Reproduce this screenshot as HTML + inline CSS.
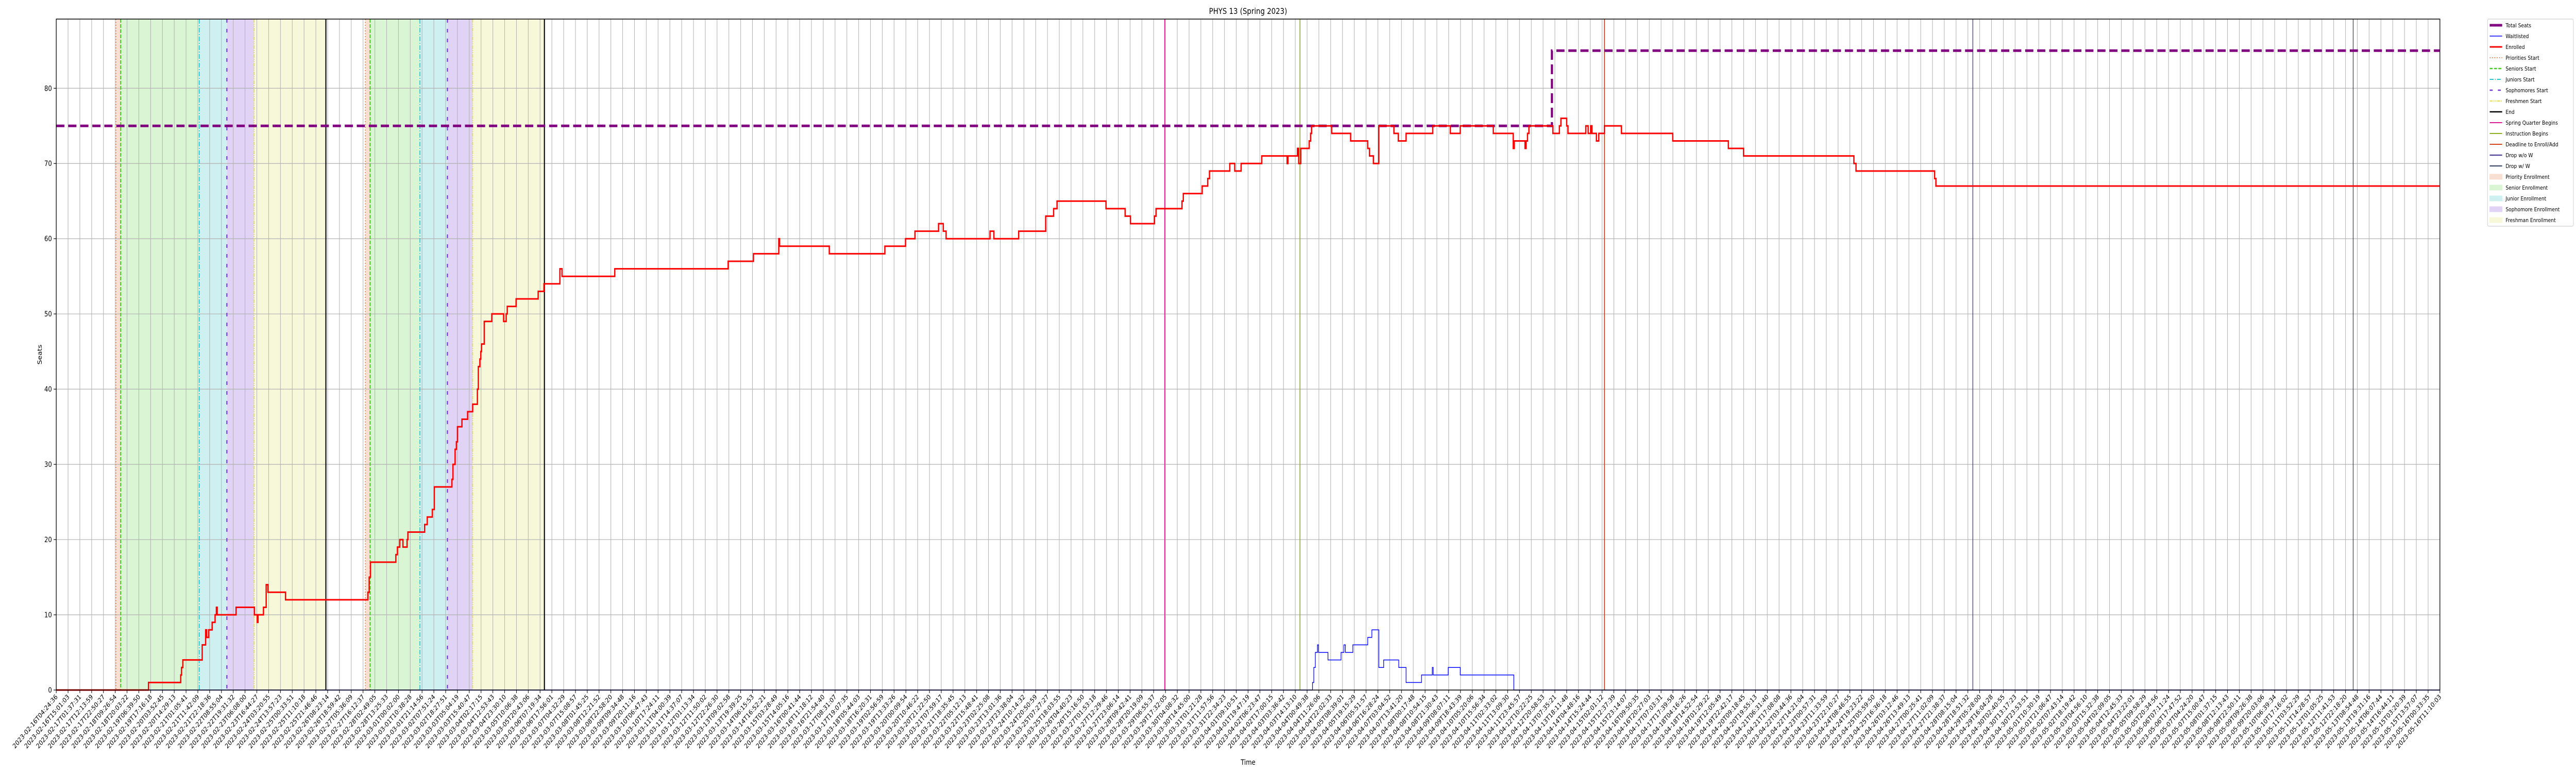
<!DOCTYPE html>
<html><head><meta charset="utf-8"><style>
html,body{margin:0;padding:0;background:#fff;overflow:hidden;}
svg{display:block;width:100vw;height:100vh;font-family:"DejaVu Sans","Liberation Sans",sans-serif;}
</style></head><body>
<svg id="chart" viewBox="0 0 6000 1500" preserveAspectRatio="none" xmlns="http://www.w3.org/2000/svg">
<rect width="6000" height="1500" fill="#fff"/>
<g id="bands"></g><g id="grid"></g><g id="vlines"></g><g id="series"></g><g id="axes"></g><g id="legend"></g>
</svg>
<script>
// ---- data (x in tick-index time units, y in seats) ----
const startLabel = "2023-02-16T04:24:36";
const endLabel = "2023-05-16T11:10:03";
const tickCount = 203;
const yTicks = [0,10,20,30,40,50,60,70,80];
const enrolledX = [0,7.82,10.55,10.62,10.73,12.37,12.66,12.75,12.92,13.21,13.46,13.57,13.64,15.24,16.79,17.03,17.10,17.56,17.79,17.94,19.43,26.41,26.52,26.63,28.78,28.91,29.11,29.38,29.73,29.80,31.22,31.44,31.87,32.04,33.53,33.62,33.80,33.91,34.00,34.38,34.86,35.29,35.69,35.77,35.90,35.98,36.04,36.27,36.91,37.91,38.13,38.22,38.97,40.84,41.33,42.68,42.86,47.33,56.94,59.09,61.23,61.30,65.51,70.22,71.97,72.77,74.77,75.17,75.41,79.13,79.46,81.56,83.85,84.52,84.81,88.96,90.58,91.03,93.07,93.20,95.40,95.51,97.11,97.58,97.73,99.45,99.87,100.41,102.16,104.31,104.38,105.18,105.29,105.47,106.18,106.30,106.38,108.09,109.69,111.14,111.29,111.62,112.08,113.36,113.73,114.39,116.65,118.14,118.98,121.78,123.47,123.56,124.47,124.56,124.68,124.80,126.83,127.38,127.51,128.00,128.11,129.62,129.82,130.03,130.14,130.52,130.72,131.20,132.64,136.99,141.70,142.99,152.34,152.52,159.18,159.29,202];
const enrolledY = [0,1,2,3,4,6,8,7,8,9,10,11,10,11,10,9,10,11,14,13,12,13,15,17,18,19,20,19,20,21,22,23,24,27,28,30,32,33,35,36,37,38,40,43,44,45,46,49,50,49,50,51,52,53,54,56,55,56,57,58,60,59,58,59,60,61,62,61,60,61,60,61,63,64,65,64,63,62,63,64,65,66,67,68,69,70,69,70,71,70,71,72,70,72,73,74,75,74,73,72,71,70,75,74,73,74,75,74,75,74,72,73,72,73,74,75,74,75,76,75,74,75,74,75,74,73,74,75,74,73,72,71,70,69,68,67,67];
const waitX = [0,106.46,106.57,106.70,106.88,106.97,107.77,108.88,109.12,109.25,109.88,111.14,111.49,112.08,112.49,113.77,114.39,115.70,116.61,116.69,117.96,118.98,123.52,202];
const waitY = [0,1,3,5,6,5,4,5,6,5,6,7,8,3,4,3,1,2,3,2,3,2,0,0];
const seatsX = [0,126.75,202];
const seatsY = [75,85,85];
const cycleStarts = [[5.06,5.46,12.12,14.46,16.77,22.85],[26.20,26.60,30.82,33.15,35.29,41.37]];
const eventNames = ["Spring Quarter Begins","Instruction Begins","Deadline to Enroll/Add","Drop w/o W","Drop w/ W"];
const eventX = [93.94,105.40,131.20,162.42,194.65];

// ---- layout ----
const L=131,R=5683,T=37,B=1339,YMAX=89.2;
const NS="http://www.w3.org/2000/svg";
const sx=v=>L+v*(R-L)/(tickCount-1);
const sy=v=>B-v*(B-T)/YMAX;
function mk(tag,attrs,parent){const e=document.createElementNS(NS,tag);for(const k in attrs)e.setAttribute(k,attrs[k]);parent.appendChild(e);return e;}
const $=id=>document.getElementById(id);

// bands
const bandColors=["#f8dfd2","#d9f5d3","#cff0f0","#e0d3f5","#f7f8da"];
const bandNames=["priority","senior","junior","sophomore","freshman"];
cycleStarts.forEach((c,ci)=>{for(let i=0;i<5;i++){
  const r=mk('rect',{x:sx(c[i]),y:T,width:sx(c[i+1])-sx(c[i]),height:B-T,fill:bandColors[i]},$('bands'));
  
  
}});

// grid
for(let i=0;i<tickCount;i++){const l=mk('line',{x1:sx(i),x2:sx(i),y1:T,y2:B,stroke:"#b0b0b0","stroke-width":1.2},$('grid'));
  
  }
yTicks.forEach(v=>{const l=mk('line',{x1:L,x2:R,y1:sy(v),y2:sy(v),stroke:"#b0b0b0","stroke-width":1.2},$('grid'));
  
  });

// start lines
const startStyles=[["#f07a3c","2,3.5",2],["#44cc22","7,3",2.5],["#22c8d0","9,3,2,3",2],["#7733dd","7,12",2.5],["#e6e040","7,2,2,2,2,2",2],["#000","",2.5]];
const startNames=["priorities-start","seniors-start","juniors-start","sophomores-start","freshmen-start","end"];
cycleStarts.forEach(c=>c.forEach((v,i)=>{const s=startStyles[i];
  const l=mk('line',{x1:sx(v),x2:sx(v),y1:T,y2:B,stroke:s[0],"stroke-width":s[2],"stroke-dasharray":s[1]},$('vlines'));
  
  }));
const eventColors=["#e01a94","#8fb01e","#d2431d","#3b2e8f","#2f3e5c"];
eventX.forEach((v,i)=>{const l=mk('line',{x1:sx(v),x2:sx(v),y1:T,y2:B,stroke:eventColors[i],"stroke-width":i<3?2:1.5},$('vlines'));
  
  });

// series
function stepPath(xs,ys){let d="M"+sx(xs[0])+","+sy(ys[0]);for(let i=1;i<xs.length;i++){d+="H"+sx(xs[i])+"V"+sy(ys[i]);}return d;}
const ps=mk('path',{d:stepPath(seatsX,seatsY),fill:"none",stroke:"#800080","stroke-width":5,"stroke-dasharray":"19,9"},$('series'));


const pw=mk('path',{d:stepPath(waitX,waitY),fill:"none",stroke:"#0000ff","stroke-width":1.5},$('series'));


const pe=mk('path',{d:stepPath(enrolledX,enrolledY),fill:"none",stroke:"#ff0000","stroke-width":3},$('series'));



// axes
const ax=$('axes');
const fr=mk('rect',{x:L,y:T,width:R-L,height:B-T,fill:"none",stroke:"#000","stroke-width":1.5},ax);


yTicks.forEach(v=>{mk('line',{x1:L-6,x2:L,y1:sy(v),y2:sy(v),stroke:"#000","stroke-width":1.2},ax);
  const t=mk('text',{x:L-10,y:sy(v)+5,"text-anchor":"end","font-size":14,fill:"#000"},ax);t.textContent=v;
  
  });
const t0=Date.parse(startLabel+"Z"),t1=Date.parse(endLabel+"Z");
for(let i=0;i<tickCount;i++){const x=sx(i);
  mk('line',{x1:x,x2:x,y1:B,y2:B+6,stroke:"#000","stroke-width":1.2},ax);
  const d=new Date(t0+(t1-t0)*i/(tickCount-1)).toISOString().slice(0,19);
  const t=mk('text',{x:x+4,y:B+14,"text-anchor":"end","font-size":13,fill:"#000",transform:`rotate(-45 ${x+4} ${B+14})`},ax);
  t.textContent=d;
  
  }
const ti=mk('text',{x:(L+R)/2,y:27,"text-anchor":"middle","font-size":16,fill:"#000"},ax);ti.textContent="PHYS 13 (Spring 2023)";


const xl=mk('text',{x:(L+R)/2,y:1484,"text-anchor":"middle","font-size":14,fill:"#000"},ax);xl.textContent="Time";


const yl=mk('text',{x:97,y:(T+B)/2,"text-anchor":"middle","font-size":14,fill:"#000",transform:`rotate(-90 97 ${(T+B)/2})`},ax);yl.textContent="Seats";



// legend
const lg=$('legend');
const lb=mk('rect',{x:5794,y:37,width:200,height:402,rx:3,fill:"#fff",stroke:"#d0d0d0","stroke-width":1.2},lg);


const entries=[
 ["Total Seats","line","#800080",5,""],["Waitlisted","line","#0000ff",1.5,""],["Enrolled","line","#ff0000",3,""],
 ["Priorities Start","line","#f07a3c",2,"2,3.5"],["Seniors Start","line","#44cc22",2.5,"7,3"],["Juniors Start","line","#22c8d0",2,"9,3,2,3"],
 ["Sophomores Start","line","#7733dd",2.5,"7,12"],["Freshmen Start","line","#e6e040",2,"7,2,2,2,2,2"],["End","line","#000",2.5,""],
 ["Spring Quarter Begins","line","#e01a94",2,""],["Instruction Begins","line","#8fb01e",2,""],["Deadline to Enroll/Add","line","#d2431d",2,""],
 ["Drop w/o W","line","#3b2e8f",2,""],["Drop w/ W","line","#2f3e5c",2,""],
 ["Priority Enrollment","box","#f8dfd2"],["Senior Enrollment","box","#d9f5d3"],["Junior Enrollment","box","#cff0f0"],["Sophomore Enrollment","box","#e0d3f5"],["Freshman Enrollment","box","#f7f8da"]];
entries.forEach((e,i)=>{const y=49+i*21;
  const g=mk('g',{},lg);
  
  
  if(e[1]==="line"){mk('line',{x1:5799,x2:5828,y1:y,y2:y,stroke:e[2],"stroke-width":e[3],"stroke-dasharray":e[4]},g);}
  else{mk('rect',{x:5799,y:y-5,width:29,height:10,fill:e[2],stroke:e[2]},g);}
  const t=mk('text',{x:5836,y:y+4,"font-size":11,fill:"#000"},g);t.textContent=e[0];});
</script>
</body></html>
